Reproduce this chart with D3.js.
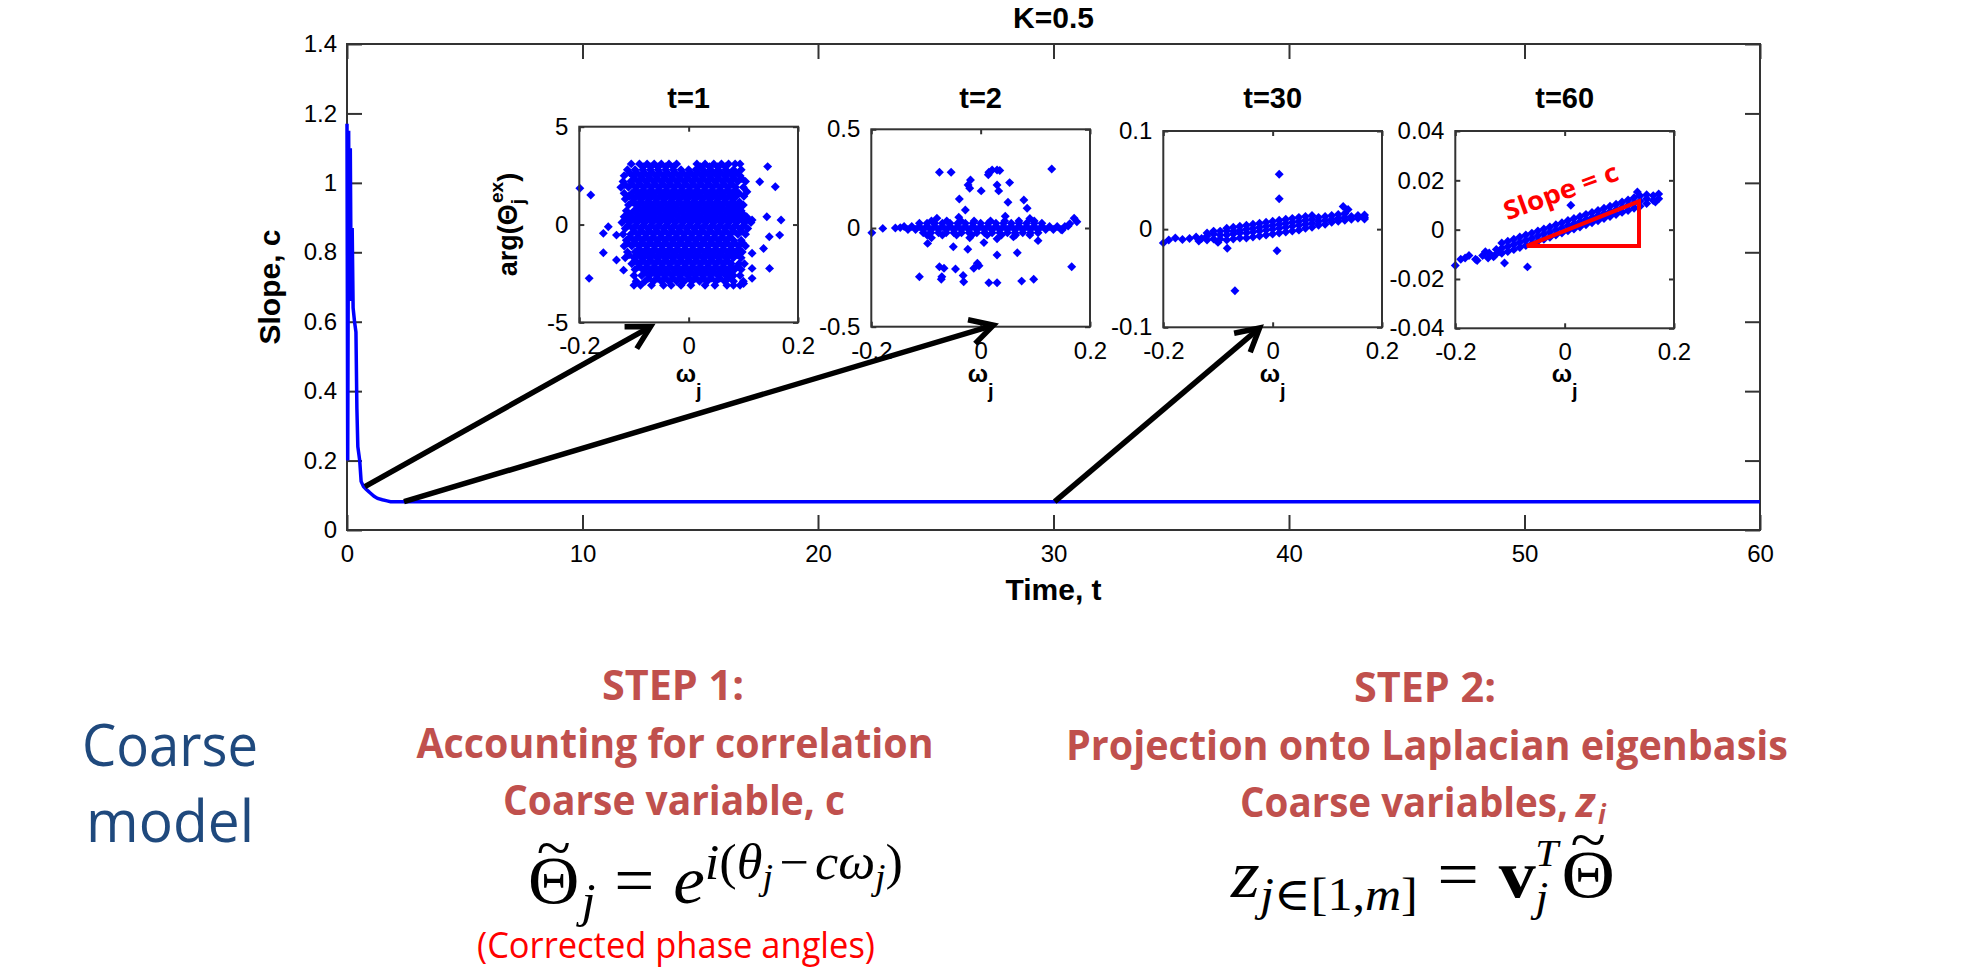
<!DOCTYPE html>
<html lang="en">
<head>
  <meta charset="UTF-8">
  <title>K=0.5 - Slope c over time</title>
  <script src="https://d3js.org/d3.v7.min.js"></script>
  <style>
    body { margin: 0; background: #fff; }
    svg { display: block; }
  </style>
</head>
<body>
<svg id="chart" width="1966" height="969"></svg>
<script>
// ---- main curve: slope c against time t
const timeSteps = [0, 0.03, 0.07, 0.1, 0.14, 0.18, 0.22, 0.26, 0.32, 0.38, 0.42, 0.46, 0.54, 0.6, 0.7,
  0.8, 0.9, 1.0, 1.15, 1.3, 1.5, 1.7, 1.85, 10, 20, 30, 40, 50, 60];
const slopeValues = [1.17, 0.2, 1.15, 0.68, 1.1, 0.66, 0.87, 0.64, 0.6, 0.57, 0.35, 0.24, 0.2, 0.14, 0.125,
  0.118, 0.112, 0.106, 0.097, 0.091, 0.087, 0.084, 0.0815, 0.0815, 0.0815, 0.0815, 0.0815, 0.0815, 0.0815];
const xTickValues = [0, 10, 20, 30, 40, 50, 60];
const yTickValues = [0, 0.2, 0.4, 0.6, 0.8, 1, 1.2, 1.4];

// arrows from the curve to the insets, in (t, c)
const arrowFrom = [[0.76, 0.125], [2.42, 0.0815], [30.05, 0.0815]];
const arrowTo = [[12.89, 0.586], [27.45, 0.59], [38.75, 0.582]];

// ---- insets
const insetTitles = ["t=1", "t=2", "t=30", "t=60"];
const insetXTicks = [-0.2, 0, 0.2];
const insetYTicks = [[-5, 0, 5], [-0.5, 0, 0.5], [-0.1, 0, 0.1], [-0.04, -0.02, 0, 0.02, 0.04]];

// t=1 : rows of [arg, omegas]
const phaseRowsT1 = [
  [3.10, [-0.105,-0.09,-0.076,-0.063,-0.05,-0.036,-0.022,0.015,0.03,0.046,0.06,0.073,0.085,0.094]],
  [2.95, [-0.083,-0.069,-0.056,-0.042,-0.028,0.022,0.038,0.053,0.067]],
  [2.80, [-0.112,-0.098,-0.084,-0.07,-0.056,-0.042,-0.028,-0.014,0.0,0.013,0.026,0.04,0.054,0.068,0.082,0.096]],
  [2.65, [-0.108,-0.095,-0.081,-0.067,-0.053,-0.039,-0.025,-0.011,0.003,0.017,0.031,0.045,0.059,0.073,0.087]],
  [2.50, [-0.118,-0.102,-0.088,-0.074,-0.06,-0.046,-0.032,-0.018,-0.004,0.01,0.024,0.038,0.052,0.066,0.08,0.094]],
  [2.35, [-0.099,-0.085,-0.071,-0.057,-0.043,-0.029,-0.015,-0.001,0.013,0.027,0.041,0.055,0.069,0.083,0.097]],
  [2.20, [-0.12,-0.106,-0.092,-0.078,-0.064,-0.05,-0.036,-0.022,-0.008,0.006,0.02,0.034,0.048,0.062,0.076,0.09,0.104]],
  [2.05, [-0.117,-0.103,-0.089,-0.075,-0.061,-0.047,-0.033,-0.019,-0.005,0.009,0.023,0.037,0.051,0.065,0.079]],
  [1.90, [-0.124,-0.11,-0.096,-0.082,-0.068,-0.054,-0.04,-0.026,-0.012,0.002,0.016,0.03,0.044,0.058,0.072,0.086,0.1]],
  [1.75, [-0.097,-0.083,-0.069,-0.055,-0.041,-0.027,-0.013,0.001,0.015,0.029,0.043,0.057,0.071,0.085]],
  [1.60, [-0.118,-0.104,-0.09,-0.076,-0.062,-0.048,-0.034,-0.02,-0.006,0.008,0.022,0.036,0.05,0.064,0.078,0.092]],
  [1.45, [-0.109,-0.095,-0.081,-0.067,-0.053,-0.039,-0.025,-0.011,0.003,0.017,0.031,0.045,0.059,0.073,0.087,0.101]],
  [1.30, [-0.116,-0.1,-0.086,-0.072,-0.058,-0.044,-0.03,-0.016,-0.002,0.012,0.026,0.04,0.054,0.068,0.082]],
  [1.15, [-0.103,-0.089,-0.075,-0.061,-0.047,-0.033,-0.019,-0.005,0.009,0.023,0.037,0.051,0.065,0.079,0.093]],
  [1.00, [-0.11,-0.096,-0.082,-0.068,-0.054,-0.04,-0.026,-0.012,0.002,0.016,0.03,0.044,0.058,0.072,0.086,0.1]],
  [0.85, [-0.091,-0.077,-0.063,-0.049,-0.035,-0.021,-0.007,0.007,0.021,0.035,0.049,0.063,0.077,0.091]],
  [0.70, [-0.114,-0.1,-0.086,-0.072,-0.058,-0.044,-0.03,-0.016,-0.002,0.012,0.026,0.04,0.054,0.068,0.082,0.096]],
  [0.55, [-0.109,-0.095,-0.081,-0.067,-0.053,-0.039,-0.025,-0.011,0.003,0.017,0.031,0.045,0.059,0.073,0.087,0.099]],
  [0.40, [-0.118,-0.104,-0.09,-0.076,-0.062,-0.048,-0.034,-0.02,-0.006,0.008,0.022,0.036,0.05,0.064,0.078,0.092,0.106]],
  [0.25, [-0.113,-0.099,-0.085,-0.071,-0.057,-0.043,-0.029,-0.015,-0.001,0.013,0.027,0.041,0.055,0.069,0.083,0.097,0.109]],
  [0.10, [-0.122,-0.108,-0.094,-0.08,-0.066,-0.052,-0.038,-0.024,-0.01,0.004,0.018,0.032,0.046,0.06,0.074,0.088,0.102,0.114]],
  [-0.05, [-0.111,-0.097,-0.083,-0.069,-0.055,-0.041,-0.027,-0.013,0.001,0.015,0.029,0.043,0.057,0.071,0.085,0.101]],
  [-0.20, [-0.116,-0.102,-0.088,-0.074,-0.06,-0.046,-0.032,-0.018,-0.004,0.01,0.024,0.038,0.052,0.066,0.08,0.094,0.108]],
  [-0.35, [-0.099,-0.085,-0.071,-0.057,-0.043,-0.029,-0.015,-0.001,0.013,0.027,0.041,0.055,0.069,0.083,0.097]],
  [-0.50, [-0.12,-0.106,-0.092,-0.078,-0.064,-0.05,-0.036,-0.022,-0.008,0.006,0.02,0.034,0.048,0.062,0.076,0.09,0.104]],
  [-0.65, [-0.107,-0.093,-0.079,-0.065,-0.051,-0.037,-0.023,-0.009,0.005,0.019,0.033,0.047,0.061,0.075]],
  [-0.80, [-0.114,-0.1,-0.086,-0.072,-0.058,-0.044,-0.03,-0.016,-0.002,0.012,0.026,0.04,0.054,0.068,0.082,0.096]],
  [-0.95, [-0.111,-0.097,-0.083,-0.069,-0.055,-0.041,-0.027,-0.013,0.001,0.015,0.029,0.043,0.057,0.071,0.085,0.099]],
  [-1.10, [-0.118,-0.104,-0.09,-0.076,-0.062,-0.048,-0.034,-0.02,-0.006,0.008,0.022,0.036,0.05,0.064,0.078,0.092,0.104]],
  [-1.25, [-0.091,-0.077,-0.063,-0.049,-0.035,-0.021,-0.007,0.007,0.021,0.035,0.049,0.063,0.077,0.091]],
  [-1.40, [-0.112,-0.098,-0.084,-0.07,-0.056,-0.042,-0.028,-0.014,0.0,0.014,0.028,0.042,0.056,0.07,0.084,0.098]],
  [-1.55, [-0.109,-0.093,-0.079,-0.065,-0.051,-0.037,-0.023,-0.009,0.005,0.019,0.033,0.047,0.061,0.075,0.089]],
  [-1.70, [-0.116,-0.1,-0.086,-0.072,-0.058,-0.044,-0.03,-0.016,-0.002,0.012,0.026,0.04,0.054,0.068,0.082,0.096]],
  [-1.85, [-0.097,-0.083,-0.069,-0.055,-0.041,-0.027,-0.013,0.001,0.015,0.029,0.043,0.057,0.071]],
  [-2.00, [-0.104,-0.09,-0.076,-0.062,-0.048,-0.034,-0.02,-0.006,0.008,0.022,0.036,0.05,0.064,0.078,0.092,0.102]],
  [-2.15, [-0.091,-0.077,-0.063,-0.049,-0.035,-0.021,-0.007,0.007,0.021,0.035,0.049,0.063,0.077,0.089]],
  [-2.30, [-0.098,-0.084,-0.07,-0.056,-0.042,-0.028,-0.014,0.0,0.014,0.028,0.042,0.056,0.07,0.084,0.096]],
  [-2.45, [-0.079,-0.065,-0.051,-0.037,-0.023,-0.009,0.005,0.019,0.033,0.047,0.061,0.075]],
  [-2.60, [-0.1,-0.086,-0.072,-0.058,-0.044,-0.03,-0.016,-0.002,0.012,0.026,0.04,0.054,0.068,0.082,0.094]],
  [-2.75, [-0.073,-0.057,-0.043,-0.029,-0.015,0.001,0.013,0.027,0.041,0.057,0.073]],
  [-2.90, [-0.096,-0.08,-0.064,-0.05,-0.036,-0.022,-0.008,0.006,0.02,0.034,0.05,0.066,0.082,0.1]],
  [-3.10, [-0.1,-0.088,-0.068,-0.046,-0.032,-0.014,0.004,0.03,0.048,0.07,0.082,0.094]]
];
const phaseOutliersT1 = [[-0.199,1.85],[-0.179,1.51],[-0.156,-0.45],[-0.147,-0.11],[-0.132,-0.54],
  [-0.156,-1.44],[-0.132,-1.81],[-0.119,-2.33],[-0.182,-2.75],[0.1445,2.96],[0.13,2.19],[0.1585,1.93],
  [0.1066,1.68],[0.116,0.23],[0.143,0.4],[0.169,0.23],[0.1475,-0.62],[0.1665,-0.54],[0.137,-1.22],
  [0.116,-1.47],[0.148,-2.24],[0.116,-2.24],[0.116,-2.75],[0.1005,-3.01]];

// t=2 : band rows of [value, omegas] plus scattered points
const bandRowsT2 = [
  [0.036, [-0.09,-0.062,-0.036,-0.012,0.018,0.044,0.07,0.098]],
  [0.024, [-0.112,-0.098,-0.084,-0.07,-0.056,-0.042,-0.028,-0.014,0.0,0.014,0.028,0.042,0.056,0.07,0.084,0.098,0.112]],
  [0.008, [-0.14,-0.126,-0.112,-0.098,-0.084,-0.07,-0.056,-0.042,-0.028,-0.014,0.0,0.014,0.028,0.042,0.056,0.07,0.084,0.098,0.112,0.126,0.14,0.154]],
  [-0.008, [-0.133,-0.119,-0.105,-0.091,-0.077,-0.063,-0.049,-0.035,-0.021,-0.007,0.007,0.021,0.035,0.049,0.063,0.077,0.091,0.105,0.119,0.133,0.147]],
  [-0.024, [-0.105,-0.091,-0.077,-0.063,-0.049,-0.035,-0.021,-0.007,0.007,0.021,0.035,0.049,0.063,0.077,0.091,0.105]],
  [-0.036, [-0.098,-0.07,-0.044,-0.016,0.012,0.038,0.064,0.09]]
];
const scatterT2 = [[-0.199,-0.024],[-0.179,-0.002],[-0.156,0.0],[-0.147,0.002],[0.171,0.049],[0.163,0.022],
  [0.149,-0.01],[0.176,0.032],[0.16,0.01],[-0.08,0.05],[-0.04,0.055],[0.045,0.06],[0.09,0.048],
  [-0.09,-0.05],[-0.02,-0.05],[0.03,-0.055],[0.06,-0.045],
  [-0.0754,0.282],[-0.054,0.282],[0.13,0.299],[0.015,0.282],[0.021,0.294],[0.03,0.294],[0.035,0.291],
  [0.014,0.27],[-0.0186,0.243],[-0.023,0.218],[-0.02,0.201],[0.001,0.188],[0.03,0.218],[0.033,0.188],
  [0.053,0.23],[-0.039,0.147],[0.05,0.13],[0.079,0.142],[0.085,0.1],[-0.028,0.091],
  [-0.097,-0.078],[-0.05,-0.095],[-0.0235,-0.108],[0.006,-0.074],[0.03,-0.137],[0.067,-0.125],[0.105,-0.064],
  [-0.0754,-0.196],[-0.067,-0.204],[-0.071,-0.247],[-0.072,-0.26],[-0.046,-0.208],[-0.032,-0.241],
  [-0.031,-0.272],[-0.0125,-0.204],[-0.006,-0.179],[-0.003,-0.191],[-0.112,-0.247],[0.015,-0.277],
  [0.03,-0.277],[0.075,-0.269],[0.097,-0.26],[0.1665,-0.196]];

// t=30 : columns of [omega, values] plus scattered points
const bandColsT30 = [
  [-0.12, [-0.011,-0.007,-0.004]], [-0.108, [-0.010,-0.005,-0.002]], [-0.096, [-0.010,-0.006,-0.002]],
  [-0.084, [-0.011,-0.006,-0.002,0.001]], [-0.072, [-0.010,-0.005,-0.002,0.002]],
  [-0.06, [-0.009,-0.004,-0.001,0.003]], [-0.048, [-0.009,-0.004,0.0,0.004]],
  [-0.036, [-0.008,-0.003,0.001,0.005]], [-0.024, [-0.007,-0.002,0.002,0.006]],
  [-0.012, [-0.006,-0.001,0.003,0.007]], [0.0, [-0.005,0.0,0.004,0.008]],
  [0.012, [-0.004,0.001,0.005,0.009]], [0.024, [-0.003,0.002,0.006,0.010]],
  [0.036, [-0.002,0.003,0.007,0.011]], [0.048, [-0.001,0.004,0.008,0.012]],
  [0.06, [0.001,0.005,0.009,0.013]], [0.072, [0.002,0.006,0.010,0.014]],
  [0.084, [0.004,0.008,0.012]], [0.096, [0.005,0.009,0.013]], [0.108, [0.007,0.010,0.014]],
  [0.12, [0.008,0.011,0.015]], [0.132, [0.009,0.012,0.016]], [0.144, [0.010,0.013]],
  [0.156, [0.011,0.014]], [0.168, [0.012,0.0145]]
];
const scatterT30 = [[-0.2,-0.014],[-0.19,-0.011],[-0.178,-0.009],[-0.165,-0.0105],[-0.152,-0.0095],
  [-0.14,-0.008],[-0.13,-0.0095],[-0.135,-0.012],[0.012,0.056],[0.012,0.031],[0.008,-0.022],
  [-0.083,-0.0195],[-0.069,-0.0627],[0.129,0.023],[0.168,0.0104],[0.138,0.02],[-0.1,-0.0135]];

// t=60 : columns of [omega, values] plus scattered points
const bandColsT60 = [
  [-0.115, [-0.0096,-0.0075,-0.0054]], [-0.104, [-0.0089,-0.0068,-0.0047]], [-0.093, [-0.0081,-0.006,-0.0039]],
  [-0.082, [-0.0072,-0.0051,-0.003]], [-0.071, [-0.0064,-0.0043,-0.0022]], [-0.06, [-0.0056,-0.0035,-0.0014]],
  [-0.049, [-0.0047,-0.0026,-0.0005]], [-0.038, [-0.0039,-0.0018,0.0003]], [-0.027, [-0.0031,-0.001,0.0011]],
  [-0.016, [-0.0022,-0.0001,0.002]], [-0.005, [-0.0014,0.0007,0.0028]], [0.006, [-0.0005,0.0016,0.0037]],
  [0.017, [0.0003,0.0024,0.0045]], [0.028, [0.0011,0.0032,0.0053]], [0.039, [0.002,0.0041,0.0062]],
  [0.05, [0.0028,0.0049,0.007]], [0.061, [0.0036,0.0057,0.0078]], [0.072, [0.0045,0.0066,0.0087]],
  [0.083, [0.0053,0.0074,0.0095]], [0.094, [0.0061,0.0082,0.0103]], [0.105, [0.007,0.0091,0.0112]],
  [0.116, [0.0078,0.0099,0.012]], [0.127, [0.0087,0.0108,0.0129]], [0.138, [0.0095,0.0116,0.0137]],
  [0.15, [0.0106,0.0125,0.0142]], [0.162, [0.0118,0.0138]], [0.172, [0.0125,0.0145]]
];
const scatterT60 = [[-0.2,-0.0145],[-0.19,-0.012],[-0.182,-0.0115],[-0.175,-0.0105],[-0.163,-0.012],
  [-0.16,-0.0125],[-0.15,-0.0105],[-0.145,-0.009],[-0.14,-0.0115],[-0.138,-0.0095],[-0.13,-0.011],
  [-0.128,-0.0105],[-0.125,-0.008],[-0.11,-0.0135],[-0.12,-0.009],[-0.068,-0.0151],[0.0113,0.0099],
  [0.166,0.0112],[0.133,0.0153]];

// slope triangle drawn on the t=60 inset
const slopeTriangle = [[-0.069, -0.0066], [0.136, 0.0115], [0.136, -0.0066]];

const insetPoints = [
  phaseRowsT1.flatMap(([a, ws]) => ws.map(w => [w, a])).concat(phaseOutliersT1),
  bandRowsT2.flatMap(([v, ws]) => ws.map(w => [w, v])).concat(scatterT2),
  bandColsT30.flatMap(([w, vs]) => vs.map(v => [w, v])).concat(scatterT30),
  bandColsT60.flatMap(([w, vs]) => vs.map(v => [w, v])).concat(scatterT60)
];

// ---- layout
const sans = '"Liberation Sans", Arial, Helvetica, sans-serif';
const slideFont = '"Open Sans", "Noto Sans", sans-serif';
const serif = '"Liberation Serif", "DejaVu Serif", serif';
const axisColor = "#333";
const blue = "#0000ff";
const headRed = "#c0504d";

const plot = { left: 347, right: 1760, top: 44, bottom: 530 };
const insetBoxes = [
  { left: 579.3, top: 126.7, bottom: 322.4 },
  { left: 871.3, top: 129.3, bottom: 326.7 },
  { left: 1163.3, top: 131, bottom: 327.3 },
  { left: 1455.3, top: 131, bottom: 328.3 }
];
const insetWidth = 218.7;

const svg = d3.select("#chart");

function tidy(g) {
  g.select(".domain").remove();
  g.selectAll(".tick line").attr("stroke", axisColor).attr("stroke-width", 2);
  g.selectAll(".tick text")
    .attr("fill", "#000")
    .style("font-family", sans)
    .style("font-size", "24px");
}

function drawFrame(xs, ys, xVals, yVals, tick, padX, padY) {
  const [x0, x1] = xs.range();
  const [y0, y1] = ys.range();
  svg.append("g").attr("transform", `translate(0,${y0})`)
    .call(d3.axisBottom(xs).tickValues(xVals).tickSizeInner(-tick).tickSizeOuter(0)
      .tickPadding(padX).tickFormat(d => String(d)))
    .call(tidy);
  svg.append("g").attr("transform", `translate(0,${y1})`)
    .call(d3.axisTop(xs).tickValues(xVals).tickSizeInner(-tick).tickSizeOuter(0).tickFormat(""))
    .call(tidy);
  svg.append("g").attr("transform", `translate(${x0},0)`)
    .call(d3.axisLeft(ys).tickValues(yVals).tickSizeInner(-tick).tickSizeOuter(0)
      .tickPadding(padY).tickFormat(d => String(d)))
    .call(tidy);
  svg.append("g").attr("transform", `translate(${x1},0)`)
    .call(d3.axisRight(ys).tickValues(yVals).tickSizeInner(-tick).tickSizeOuter(0).tickFormat(""))
    .call(tidy);
  svg.append("rect")
    .attr("x", x0).attr("y", y1).attr("width", x1 - x0).attr("height", y0 - y1)
    .attr("fill", "none").attr("stroke", axisColor).attr("stroke-width", 2);
}

// ---- main plot
const x = d3.scaleLinear().domain([0, 60]).range([plot.left, plot.right]);
const y = d3.scaleLinear().domain([0, 1.4]).range([plot.bottom, plot.top]);

drawFrame(x, y, xTickValues, yTickValues, 15, 15, 10);

svg.append("path")
  .datum(timeSteps.map((t, i) => [t, slopeValues[i]]))
  .attr("fill", "none")
  .attr("stroke", blue)
  .attr("stroke-width", 3.5)
  .attr("d", d3.line().x(d => x(d[0])).y(d => y(d[1])));

svg.append("text")
  .attr("x", (plot.left + plot.right) / 2).attr("y", 28)
  .attr("text-anchor", "middle")
  .style("font-family", sans).style("font-size", "30px").style("font-weight", "bold")
  .text("K=0.5");

svg.append("text")
  .attr("x", (plot.left + plot.right) / 2).attr("y", 600)
  .attr("text-anchor", "middle")
  .style("font-family", sans).style("font-size", "30px").style("font-weight", "bold")
  .text("Time, t");

svg.append("text")
  .attr("transform", `translate(280,${(plot.top + plot.bottom) / 2}) rotate(-90)`)
  .attr("text-anchor", "middle")
  .style("font-family", sans).style("font-size", "30px").style("font-weight", "bold")
  .text("Slope, c");

// ---- insets
const diamond = d3.symbol(d3.symbolSquare, 40);
let slopeX, slopeY;

insetBoxes.forEach((box, k) => {
  const yt = insetYTicks[k];
  const xs = d3.scaleLinear().domain([-0.2, 0.2]).range([box.left, box.left + insetWidth]);
  const ys = d3.scaleLinear().domain([yt[0], yt[yt.length - 1]]).range([box.bottom, box.top]);
  if (k === 3) { slopeX = xs; slopeY = ys; }

  svg.append("rect")
    .attr("x", box.left).attr("y", box.top)
    .attr("width", insetWidth).attr("height", box.bottom - box.top)
    .attr("fill", "#fff");

  svg.append("g").selectAll("path")
    .data(insetPoints[k])
    .join("path")
    .attr("d", diamond)
    .attr("transform", d => `translate(${xs(d[0])},${ys(d[1])}) rotate(45)`)
    .attr("fill", blue);

  drawFrame(xs, ys, insetXTicks, yt, 5, 15, 11);

  const cx = box.left + insetWidth / 2;
  svg.append("text")
    .attr("x", cx).attr("y", 108)
    .attr("text-anchor", "middle")
    .style("font-family", sans).style("font-size", "29px").style("font-weight", "bold")
    .text(insetTitles[k]);

  const xl = svg.append("text")
    .attr("x", cx).attr("y", 382)
    .attr("text-anchor", "middle")
    .style("font-family", sans).style("font-size", "24px").style("font-weight", "bold");
  xl.append("tspan").text("ω");
  xl.append("tspan").attr("dy", 16).style("font-size", "20px").text("j");
});

// y label of the first inset
const yl = svg.append("text")
  .attr("transform", `translate(517,${(insetBoxes[0].top + insetBoxes[0].bottom) / 2}) rotate(-90)`)
  .attr("text-anchor", "middle")
  .style("font-family", sans).style("font-size", "27px").style("font-weight", "bold");
yl.append("tspan").text("arg(Θ");
yl.append("tspan").attr("dy", 7).style("font-size", "19px").text("j");
yl.append("tspan").attr("dy", -21).attr("dx", -4).style("font-size", "19px").text("ex");
yl.append("tspan").attr("dy", 14).text(")");

// slope triangle and label on the t=60 inset
svg.append("path")
  .attr("d", d3.line().x(d => slopeX(d[0])).y(d => slopeY(d[1]))(slopeTriangle) + "Z")
  .attr("fill", "none").attr("stroke", "#ff0000").attr("stroke-width", 4);

svg.append("text")
  .attr("transform", "translate(1564,200) rotate(-20)")
  .attr("text-anchor", "middle")
  .attr("textLength", 120).attr("lengthAdjust", "spacingAndGlyphs")
  .style("font-family", slideFont).style("font-size", "26px").style("font-weight", "bold")
  .attr("fill", "#ff0000")
  .text("Slope = c");

// arrows
arrowFrom.forEach((from, i) => {
  const p0 = [x(from[0]), y(from[1])];
  const p1 = [x(arrowTo[i][0]), y(arrowTo[i][1])];
  const ang = Math.atan2(p1[1] - p0[1], p1[0] - p0[0]);
  const arm = s => [p1[0] - 26 * Math.cos(ang + s), p1[1] - 26 * Math.sin(ang + s)];
  const end = [p1[0] - 3 * Math.cos(ang), p1[1] - 3 * Math.sin(ang)];
  svg.append("path")
    .attr("d", d3.line()([p0, end]))
    .attr("stroke", "#000").attr("stroke-width", 5.5).attr("fill", "none");
  svg.append("path")
    .attr("d", d3.line()([arm(0.5), p1, arm(-0.5)]))
    .attr("stroke", "#000").attr("stroke-width", 5.5).attr("fill", "none")
    .attr("stroke-linejoin", "miter");
});

// ---- slide text below the chart
function slideText(str, cx, base, size, width, color, weight, anchor) {
  return svg.append("text")
    .attr("x", cx).attr("y", base)
    .attr("text-anchor", anchor || "middle")
    .attr("textLength", width).attr("lengthAdjust", "spacingAndGlyphs")
    .style("font-family", slideFont).style("font-size", size + "px")
    .style("font-weight", weight || "normal")
    .attr("fill", color)
    .text(str);
}

slideText("Coarse", 170, 766, 59, 176, "#1f497d");
slideText("model", 170, 842, 59, 168, "#1f497d");

slideText("STEP 1:", 673, 700, 42, 142, headRed, "bold");
slideText("Accounting for correlation", 675, 758, 42, 517, headRed, "bold");
slideText("Coarse variable, c", 674, 815, 42, 342, headRed, "bold");
slideText("(Corrected phase angles)", 676, 958, 36, 398, "#ff0000");

slideText("STEP 2:", 1425, 702, 42, 142, headRed, "bold");
slideText("Projection onto Laplacian eigenbasis", 1427, 760, 42, 722, headRed, "bold");
slideText("Coarse variables,", 1240, 817, 42, 328, headRed, "bold", "start");
svg.append("text").attr("x", 1576).attr("y", 817)
  .style("font-family", slideFont).style("font-size", "42px").style("font-weight", "bold")
  .style("font-style", "italic").attr("fill", headRed).text("z");
svg.append("text").attr("x", 1598).attr("y", 824)
  .style("font-family", slideFont).style("font-size", "26px").style("font-weight", "bold")
  .style("font-style", "italic").attr("fill", headRed).text("i");

// formulas: built as text, then fitted to the width they take in the slide
function tildeOver(g, textSel, idx, base) {
  const n = textSel.node();
  const a = n.getStartPositionOfChar(idx).x, b = n.getEndPositionOfChar(idx).x;
  g.append("text")
    .attr("x", (a + b) / 2).attr("y", base)
    .attr("text-anchor", "middle")
    .style("font-family", serif).style("font-size", "60px")
    .text("~");
}
function fitWidth(g, x0, x1) {
  const b = g.node().getBBox();
  const s = (x1 - x0) / b.width;
  g.attr("transform", `translate(${x0},0) scale(${s},1) translate(${-b.x},0)`);
}

// formula 1: Theta~_j = e^{i(theta_j - c omega_j)}
const g1 = svg.append("g");
const f1 = g1.append("text").attr("x", 0).attr("y", 903)
  .style("font-family", serif).style("font-size", "68px").attr("fill", "#000");
f1.append("tspan").text("Θ");
f1.append("tspan").style("font-size", "48px").style("font-style", "italic").attr("dy", 14).attr("dx", 2).text("j");
f1.append("tspan").attr("dy", -14).attr("dx", 18).text("=");
f1.append("tspan").attr("dx", 18).style("font-style", "italic").text("e");
f1.append("tspan").style("font-size", "50px").style("font-style", "italic").attr("dy", -24).text("i");
f1.append("tspan").style("font-size", "50px").text("(");
f1.append("tspan").style("font-size", "50px").style("font-style", "italic").text("θ");
f1.append("tspan").style("font-size", "36px").style("font-style", "italic").attr("dy", 10).text("j");
f1.append("tspan").style("font-size", "50px").attr("dy", -10).attr("dx", 6).text("−");
f1.append("tspan").style("font-size", "50px").style("font-style", "italic").attr("dx", 6).text("cω");
f1.append("tspan").style("font-size", "36px").style("font-style", "italic").attr("dy", 10).text("j");
f1.append("tspan").style("font-size", "50px").attr("dy", -10).text(")");
tildeOver(g1, f1, 0, 868);
fitWidth(g1, 528, 903);

// formula 2: z_{j in [1,m]} = v_j^T Theta~
const g2 = svg.append("g");
const f2 = g2.append("text").attr("x", 0).attr("y", 897)
  .style("font-family", serif).style("font-size", "68px").attr("fill", "#000");
f2.append("tspan").style("font-style", "italic").text("z");
f2.append("tspan").style("font-size", "46px").style("font-style", "italic").attr("dy", 13).text("j");
f2.append("tspan").style("font-size", "46px").text("∈[1,");
f2.append("tspan").style("font-size", "46px").style("font-style", "italic").text("m");
f2.append("tspan").style("font-size", "46px").text("]");
f2.append("tspan").attr("dy", -13).attr("dx", 18).text("=");
f2.append("tspan").attr("dx", 18).style("font-weight", "bold").text("v");
f2.append("tspan").style("font-size", "42px").style("font-style", "italic").attr("dy", 14).text("j");
f2.append("tspan").style("font-size", "38px").style("font-style", "italic").attr("dy", -45).attr("dx", -12).text("T");
f2.append("tspan").attr("dy", 31).attr("dx", 3).text("Θ");
tildeOver(g2, f2, 12, 860);
fitWidth(g2, 1230, 1615);
</script>
</body>
</html>
